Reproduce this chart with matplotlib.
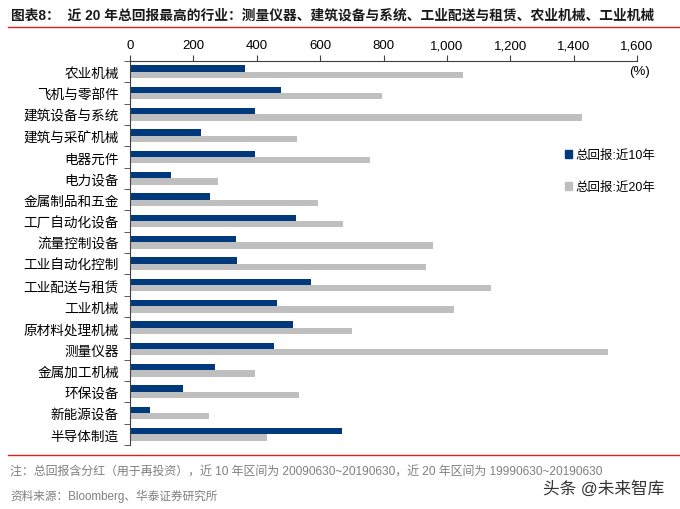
import matplotlib.pyplot as plt
import matplotlib.patches as mpatches
from matplotlib.lines import Line2D
from matplotlib.ticker import FuncFormatter, FixedLocator

plt.rcParams['font.family'] = ['Liberation Sans', 'Noto Sans CJK SC', 'DejaVu Sans']

# ====================== data ======================
industries = ['农业机械', '飞机与零部件', '建筑设备与系统', '建筑与采矿机械', '电器元件',
              '电力设备', '金属制品和五金', '工厂自动化设备', '流量控制设备', '工业自动化控制',
              '工业配送与租赁', '工业机械', '原材料处理机械', '测量仪器', '金属加工机械',
              '环保设备', '新能源设备', '半导体制造']
ret_10y = [362, 476, 394, 224, 394, 129, 252, 523, 334, 337,
           570, 463, 513, 455, 268, 168, 62, 668]
ret_20y = [1050, 794, 1427, 526, 756, 277, 592, 671, 957, 935,
           1140, 1022, 700, 1507, 393, 533, 248, 432]
x_ticks = [0, 200, 400, 600, 800, 1000, 1200, 1400, 1600]

NAVY = '#003A7D'
GREY = '#BFBFBF'
W, H = 680, 510

fig = plt.figure(figsize=(6.8, 5.1), dpi=100)
ax = fig.add_axes([130 / W, 1 - 446 / H, 507 / W, 384 / H])

pos = list(range(len(industries)))
h = 0.3
ax.barh([p - h / 2 for p in pos], ret_10y, height=h, color=NAVY, label='总回报:近10年')
ax.barh([p + h / 2 for p in pos], ret_20y, height=h, color=GREY, label='总回报:近20年')

ax.set_xlim(0, 1600)
ax.set_ylim(len(industries) - 0.5, -0.5)
ax.xaxis.tick_top()
ax.set_xticks(x_ticks)
ax.xaxis.set_major_formatter(FuncFormatter(lambda v, _: f'{int(v):,}'))
ax.tick_params(axis='x', direction='out', length=4, color='#404040', labelsize=9.5, pad=3)

ax.set_yticks(pos)
ax.set_yticklabels(industries, fontsize=9.8)
ax.tick_params(axis='y', which='major', length=0, pad=8)
ax.yaxis.set_minor_locator(FixedLocator([p - 0.5 for p in pos] + [len(pos) - 0.5]))
ax.tick_params(axis='y', which='minor', direction='out', length=4, color='#404040')

for s in ['right', 'bottom']:
    ax.spines[s].set_visible(False)
for s in ['top', 'left']:
    ax.spines[s].set_color('#404040')
    ax.spines[s].set_linewidth(0.8)

handles = [mpatches.Patch(color=NAVY), mpatches.Patch(color=GREY)]
ax.legend(handles, ['总回报:近10年', '总回报:近20年'], loc='upper left',
          bbox_to_anchor=(0.835, 0.8), frameon=False, fontsize=9,
          handlelength=0.6, handleheight=0.6, handletextpad=0.3, labelspacing=1.6)

fig.text(640 / W, 1 - 72 / H, '(%)', fontsize=9.5, ha='center', va='center')

# ====================== header / footer ======================
fig.text(11 / W, 1 - 16 / H,
         '图表8：  近 20 年总回报最高的行业：测量仪器、建筑设备与系统、工业配送与租赁、农业机械、工业机械',
         fontsize=9.9, fontweight='bold', color='#1a1a1a', va='center')
fig.add_artist(Line2D([8 / W, 1], [1 - 28 / H] * 2, color='#E02020', lw=1))
fig.add_artist(Line2D([8 / W, 1], [1 - 456 / H] * 2, color='#E02020', lw=1))

fig.text(10 / W, 1 - 473 / H,
         '注：总回报含分红（用于再投资），近 10 年区间为 20090630~20190630，近 20 年区间为 19990630~20190630',
         fontsize=8.6, color='#7f7f7f', va='center')
fig.text(10 / W, 1 - 496 / H, '资料来源：Bloomberg、华泰证券研究所',
         fontsize=8.4, color='#7f7f7f', va='center')
fig.text(543 / W, 1 - 489 / H, '头条 @未来智库', fontsize=12, color='#333333', va='center')

fig.savefig('out.png', dpi=100)
